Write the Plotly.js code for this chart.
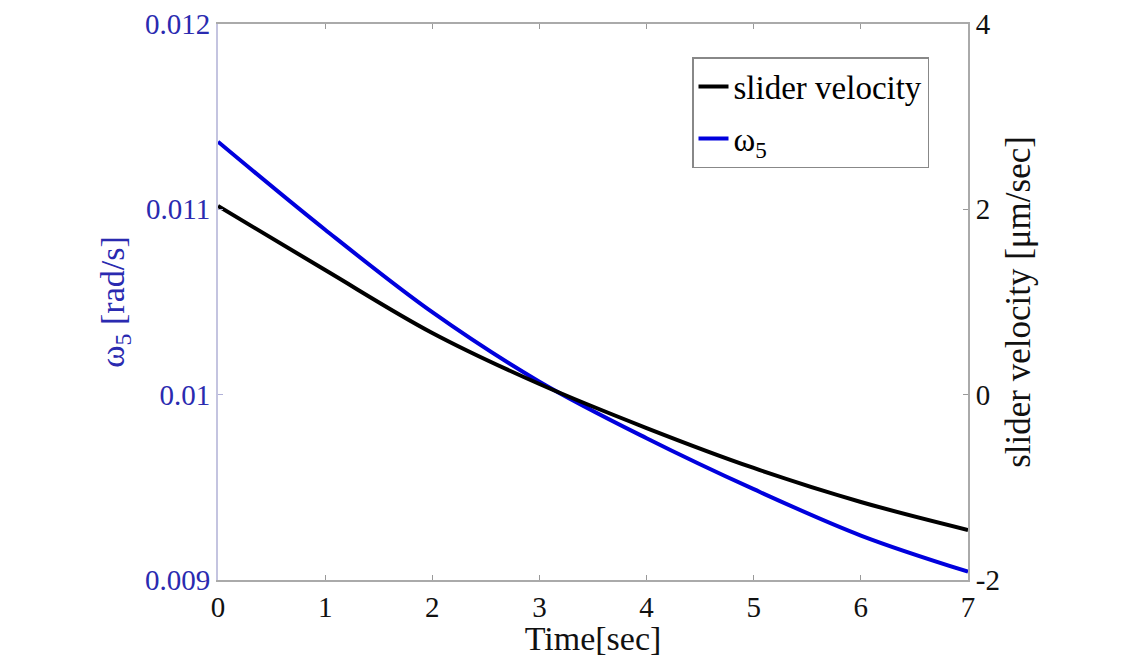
<!DOCTYPE html>
<html>
<head>
<meta charset="utf-8">
<script src="https://cdn.plot.ly/plotly-3.0.1.min.js"></script>
<style>html,body{margin:0;padding:0;background:#fff;}#chart{width:1138px;height:657px;}</style>
</head>
<body>
<div id="chart"></div>
<script>
const time = [0, 1, 2, 3, 4, 5, 6, 7];
const sliderVelocity = [2.036, 1.345, 0.666, 0.115, -0.360, -0.791, -1.158, -1.460];
const omega5 = [0.011365, 0.010890, 0.010445, 0.010070, 0.009765, 0.009490, 0.009240, 0.009045];
const xTicks = [0, 1, 2, 3, 4, 5, 6, 7];
const leftTicks = [0.009, 0.010, 0.011, 0.012];
const leftTickText = ["0.009", "0.01", "0.011", "0.012"];
const rightTicks = [-2, 0, 2, 4];
const rightTickText = ["-2", "0", "2", "4"];

const serif = "Liberation Serif, Times New Roman, serif";
const blueTxt = "#2a2ab0";

const traces = [
  {x: time, y: sliderVelocity, name: "slider velocity", yaxis: "y2", type: "scatter", mode: "lines",
   legendgroup: "a", line: {color: "#000000", width: 4, shape: "spline"}},
  {x: time, y: omega5, name: "ω<sub>5</sub>", yaxis: "y", type: "scatter", mode: "lines",
   legendgroup: "b", line: {color: "#0000dd", width: 4, shape: "spline"}}
];

const layout = {
  width: 1138, height: 657,
  paper_bgcolor: "#ffffff", plot_bgcolor: "#ffffff",
  margin: {l: 218, r: 170, t: 24, b: 77},
  showlegend: true,
  legend: {x: 0.632, y: 0.9406, xanchor: "left", yanchor: "top",
    bgcolor: "#ffffff", bordercolor: "#888888", borderwidth: 1.5,
    font: {family: serif, size: 33, color: "#000"}, itemwidth: 30, traceorder: "grouped",
    tracegroupgap: 6},
  xaxis: {range: [0, 7], tickvals: xTicks, ticktext: xTicks.map(String),
    ticks: "inside", ticklen: 5, tickcolor: "#999", showline: true, linecolor: "#aaaaaa", linewidth: 2,
    mirror: "ticks", showgrid: false, zeroline: false, automargin: false,
    tickfont: {family: serif, size: 29, color: "#111"},
    title: {text: "Time[sec]", font: {family: serif, size: 34, color: "#111"}, standoff: 0}},
  yaxis: {range: [0.009, 0.012], tickvals: leftTicks, ticktext: leftTickText,
    ticks: "inside", ticklen: 5, tickcolor: "#b0b0d8", showline: true, linecolor: "#c4c4e0", linewidth: 2,
    showgrid: false, zeroline: false, automargin: false,
    tickfont: {family: serif, size: 29, color: blueTxt},
    title: {text: "ω<sub>5</sub> [rad/s]", font: {family: serif, size: 34, color: blueTxt}, standoff: 10}},
  yaxis2: {range: [-2, 4], tickvals: rightTicks, ticktext: rightTickText, overlaying: "y", side: "right",
    ticks: "inside", ticklen: 5, tickcolor: "#999", showline: true, linecolor: "#aaaaaa", linewidth: 2,
    showgrid: false, zeroline: false, automargin: false,
    tickfont: {family: serif, size: 29, color: "#111"},
    title: {text: "slider velocity [μm/sec]", font: {family: serif, size: 35, color: "#111"}, standoff: 7}}
};

Plotly.newPlot("chart", traces, layout, {staticPlot: true, displayModeBar: false});
</script>
</body>
</html>
